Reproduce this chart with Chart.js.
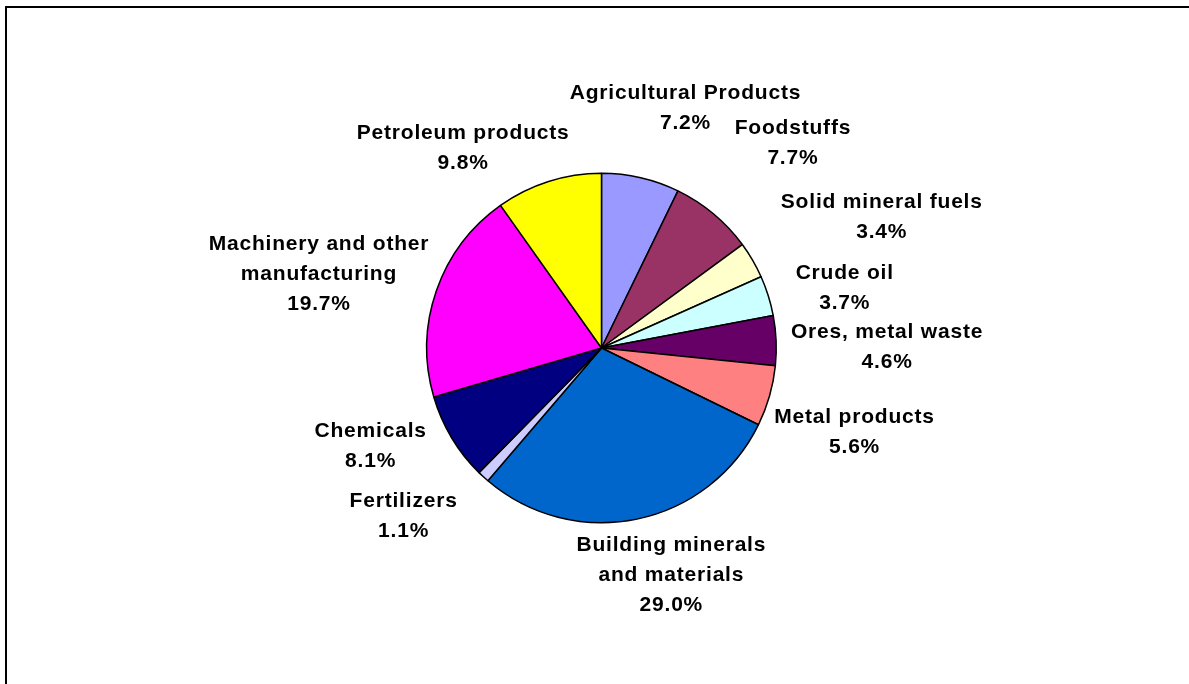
<!DOCTYPE html>
<html>
<head>
<meta charset="utf-8">
<title>Freight by commodity group</title>
<script src="https://cdn.jsdelivr.net/npm/chart.js@4/dist/chart.umd.min.js"></script>
<style>
    html, body { margin: 0; padding: 0; background: #fff; overflow: hidden; }
    .frame {
        position: absolute;
        left: 5px;
        top: 6px;
        width: 1300px;
        height: 800px;
        border-top: 2px solid #000;
        border-left: 2px solid #000;
    }
    #freightChart { position: absolute; left: 0; top: 0; }
</style>
</head>
<body>
<div class="frame"></div>
<canvas id="freightChart" width="1189" height="684"></canvas>
<script>
// share of tonnage per commodity group (%), clockwise from 12 o'clock
const categories = [
    ['Agricultural Products'],
    ['Foodstuffs'],
    ['Solid mineral fuels'],
    ['Crude oil'],
    ['Ores, metal waste'],
    ['Metal products'],
    ['Building minerals', 'and materials'],
    ['Fertilizers'],
    ['Chemicals'],
    ['Machinery and other', 'manufacturing'],
    ['Petroleum products']
];
const shares = [7.2, 7.7, 3.4, 3.7, 4.6, 5.6, 29.0, 1.1, 8.1, 19.7, 9.8];
const sliceColors = [
    '#9999FF', '#993366', '#FFFFCC', '#CCFFFF', '#660066', '#FF8080',
    '#0066CC', '#CCCCFF', '#000080', '#FF00FF', '#FFFF00'
];

// label layout: distance past the rim, then small per-label nudges
const LABEL_GAP = 30;
const LINE_H = 30;
const labelNudge = [
    [12, -11], [23, -24], [16, -13], [1, 10], [-15, 9], [-21, 20],
    [9, -17], [-23, -5], [-7, -22], [15, 8], [-44, 24]
];

// outside-end labels, Excel style (name on top, percentage below)
const outsideLabels = {
    id: 'outsideLabels',
    afterDatasetsDraw(chart) {
        const ctx = chart.ctx;
        const arcs = chart.getDatasetMeta(0).data;
        ctx.save();
        ctx.font = 'bold 21px "Liberation Sans", Arial, sans-serif';
        if ('letterSpacing' in ctx) ctx.letterSpacing = '0.8px';
        ctx.fillStyle = '#000';
        ctx.textAlign = 'center';
        ctx.textBaseline = 'middle';

        arcs.forEach((arc, i) => {
            const lines = categories[i].concat([shares[i].toFixed(1) + '%']);
            const w = Math.max(...lines.map(l => ctx.measureText(l).width));
            const h = lines.length * LINE_H;

            const mid = (arc.startAngle + arc.endAngle) / 2;
            const dx = Math.cos(mid);
            const dy = Math.sin(mid);
            const r = arc.outerRadius + LABEL_GAP;

            const cx = arc.x + dx * r + dx * w / 2 + labelNudge[i][0];
            const cy = arc.y + dy * r + dy * h / 2 + labelNudge[i][1];

            lines.forEach((line, k) => {
                ctx.fillText(line, cx, cy - h / 2 + LINE_H * (k + 0.5));
            });
        });
        ctx.restore();
    }
};

const ctx = document.getElementById('freightChart').getContext('2d');
new Chart(ctx, {
    type: 'pie',
    data: {
        labels: categories.map(c => c.join(' ')),
        datasets: [{
            data: shares,
            backgroundColor: sliceColors,
            borderColor: '#000',
            borderWidth: 1.5
        }]
    },
    options: {
        responsive: false,
        animation: false,
        layout: { padding: { top: 172, bottom: 160, left: 426, right: 412 } },
        plugins: {
            legend: { display: false },
            tooltip: { enabled: false }
        }
    },
    plugins: [outsideLabels]
});
</script>
</body>
</html>
